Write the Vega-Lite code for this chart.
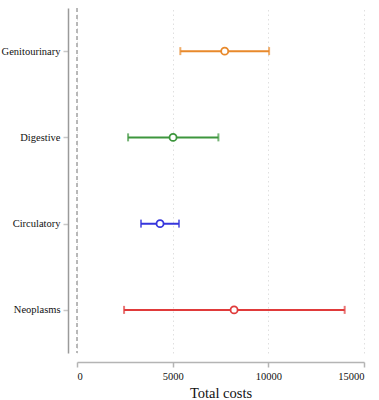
{
  "$schema": "https://vega.github.io/schema/vega-lite/v6.json",
  "width": 287,
  "height": 345,
  "autosize": {"type": "none"},
  "padding": {"left": 77, "top": 8, "right": 15, "bottom": 47},
  "background": "white",
  "config": {
    "view": {"stroke": null},
    "font": "Liberation Serif",
    "axis": {"labelFont": "Liberation Serif", "titleFont": "Liberation Serif"}
  },
  "data": {
    "values": [
      {"cause": "Genitourinary", "low": 5400, "est": 7720, "high": 10040},
      {"cause": "Digestive", "low": 2670, "est": 5020, "high": 7390},
      {"cause": "Circulatory", "low": 3345, "est": 4340, "high": 5330},
      {"cause": "Neoplasms", "low": 2460, "est": 8210, "high": 13990}
    ]
  },
  "encoding": {
    "y": {
      "field": "cause",
      "type": "nominal",
      "sort": ["Genitourinary", "Digestive", "Circulatory", "Neoplasms"],
      "scale": {"type": "point", "padding": 0.5},
      "axis": {
        "title": null,
        "offset": 9,
        "domainColor": "#9a9a9a",
        "domainWidth": 1.5,
        "tickColor": "#c8c8c8",
        "tickWidth": 1.5,
        "tickSize": 5,
        "labelFont": "Liberation Serif",
        "labelFontSize": 10.5,
        "labelColor": "#111111",
        "labelPadding": 3,
        "grid": false
      }
    },
    "color": {
      "field": "cause",
      "type": "nominal",
      "scale": {
        "domain": ["Genitourinary", "Digestive", "Circulatory", "Neoplasms"],
        "range": ["#e8892b", "#3d963d", "#3535dc", "#e03a3a"]
      },
      "legend": null
    }
  },
  "layer": [
    {
      "mark": {"type": "rule", "color": "#b4b4b4", "strokeDash": [4, 3], "strokeWidth": 1},
      "encoding": {"x": {"datum": 0, "type": "quantitative"}, "y": null, "color": null}
    },
    {
      "mark": {"type": "rule", "strokeWidth": 2},
      "encoding": {
        "x": {
          "field": "low",
          "type": "quantitative",
          "scale": {"domain": [0, 15000], "nice": false, "zero": false},
          "axis": {
            "title": "Total costs",
            "titleFont": "Liberation Serif",
            "titleFontSize": 14.5,
            "titleFontWeight": "normal",
            "titleColor": "#111111",
            "titlePadding": 5,
            "offset": 9,
            "values": [0, 5000, 10000, 15000],
            "format": "d",
            "domainColor": "#b4b4b4",
            "domainWidth": 1.5,
            "tickColor": "#b4b4b4",
            "tickWidth": 1.5,
            "tickSize": 5,
            "labelFont": "Liberation Serif",
            "labelFontSize": 10.5,
            "labelColor": "#111111",
            "labelPadding": 4,
            "grid": true,
            "gridColor": "#e0e0e0",
            "gridDash": [1.5, 3],
            "gridWidth": 1
          }
        },
        "x2": {"field": "high"}
      }
    },
    {
      "mark": {"type": "tick", "orient": "vertical", "size": 8, "thickness": 2},
      "encoding": {"x": {"field": "low", "type": "quantitative"}}
    },
    {
      "mark": {"type": "tick", "orient": "vertical", "size": 8, "thickness": 2},
      "encoding": {"x": {"field": "high", "type": "quantitative"}}
    },
    {
      "mark": {"type": "point", "shape": "circle", "filled": false, "fill": "white", "fillOpacity": 1, "size": 50, "strokeWidth": 1.8, "opacity": 1},
      "encoding": {"x": {"field": "est", "type": "quantitative"}}
    }
  ]
}
